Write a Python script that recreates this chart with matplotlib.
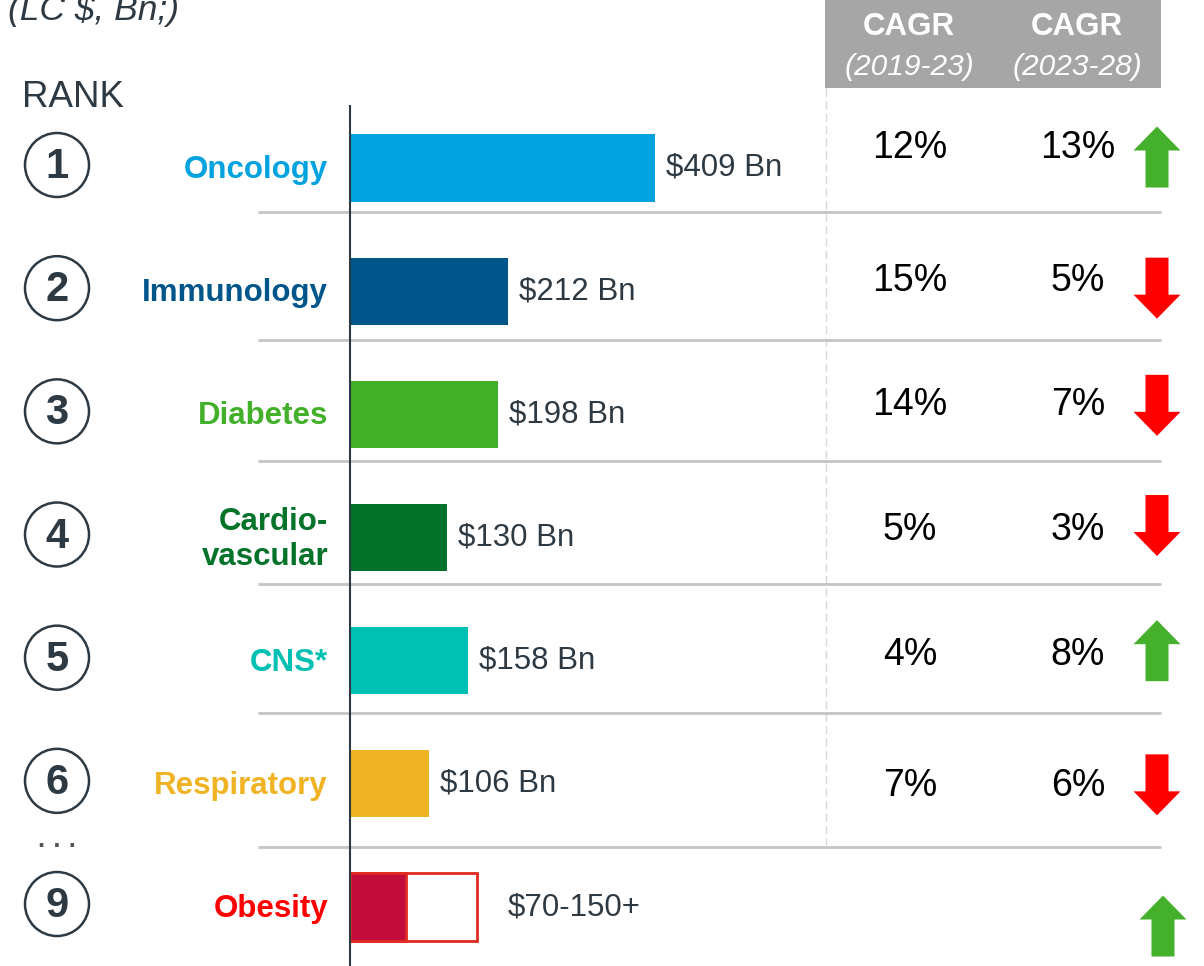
import matplotlib.pyplot as plt
from matplotlib.patches import Circle, Rectangle

plt.rcParams['font.family'] = ['Liberation Sans', 'DejaVu Sans']

# ---- data ----
ranks = [1, 2, 3, 4, 5, 6, 9]
categories = ["Oncology", "Immunology", "Diabetes", "Cardio-\nvascular",
              "CNS*", "Respiratory", "Obesity"]
sales_bn = [409, 212, 198, 130, 158, 106]
value_labels = ["$409 Bn", "$212 Bn", "$198 Bn", "$130 Bn", "$158 Bn", "$106 Bn"]
obesity_low = 75      # filled part of the obesity bar
obesity_high = 170    # outlined part ("150+")
obesity_label = "$70-150+"
cagr_2019_23 = ["12%", "15%", "14%", "5%", "4%", "7%"]
cagr_2023_28 = ["13%", "5%", "7%", "3%", "8%", "6%"]
trend = ["up", "down", "down", "down", "up", "down", "up"]

cat_colors = ["#00a3e0", "#00558a", "#43b02a", "#04732a", "#00bfb3", "#f0b323", "#ff0000"]
bar_colors = ["#02a3df", "#00558a", "#43b02a", "#02722a", "#00bfb3", "#f0b323"]
dark = "#2d3a44"
sep_gray = "#c4c4c4"
up_col, down_col = "#44b02c", "#ff0000"

# ---- layout (pixels) ----
W, H = 1204, 966
AXIS_X, BAR_TOP = 350, 106
PX_PER_BN = 0.746
ROW0, ROW_STEP = 168, 123.17
sep_y = [212, 340, 461, 584, 713, 847]
cagr_nudge = [-20, -10, -9, -8, -6, 2]
arrow_nudge = [-11, -3, -9, -12, -10, 1, 19]

fig = plt.figure(figsize=(W / 100, H / 100), dpi=100)
ax = fig.add_axes([0, 0, 1, 1])
ax.set_xlim(0, W)
ax.set_ylim(H, 0)
ax.axis("off")

bx = fig.add_axes([AXIS_X / W, 0, (W - AXIS_X) / W, (H - BAR_TOP) / H])
bx.set_xlim(0, (W - AXIS_X) / PX_PER_BN)
bx.set_ylim((H - ROW0) / ROW_STEP, (BAR_TOP - ROW0) / ROW_STEP)
bx.patch.set_visible(False)
for s in ["top", "right", "bottom"]:
    bx.spines[s].set_visible(False)
bx.spines["left"].set_color(dark)
bx.spines["left"].set_linewidth(1.5)
bx.set_xticks([])
bx.set_yticks([])


def row_px(i):
    return ROW0 + ROW_STEP * i


# header
ax.text(8, 20, "(LC $, Bn;)", fontsize=25.5, style="italic", color=dark, va="baseline")
ax.text(22, 107, "RANK", fontsize=26.5, color=dark, va="baseline")
ax.add_patch(Rectangle((825, 0), 336, 88, color="#a6a6a6", lw=0))
for cx, period in [(909, "(2019-23)"), (1077, "(2023-28)")]:
    ax.text(cx, 27, "CAGR", fontsize=22.5, weight="bold", color="white", ha="center", va="center")
    ax.text(cx, 67, period, fontsize=21.5, style="italic", color="white", ha="center", va="center")

# grid lines
ax.plot([826, 826], [88, 845], color="#d9d9d9", lw=1, ls=(0, (6, 3)))
for y in sep_y:
    ax.plot([258, 1161], [y, y], color=sep_gray, lw=2, solid_capstyle="butt")

# bars
rows = list(range(len(sales_bn)))
bx.barh(rows, sales_bn, height=0.545, color=bar_colors, zorder=1)
for i, v in enumerate(sales_bn):
    bx.annotate(value_labels[i], (v, i), xytext=(8, 0), textcoords="offset points",
                fontsize=22.5, color=dark, va="center", ha="left")
ob = len(sales_bn)
bx.barh(ob, obesity_high, height=0.545, fill=False, edgecolor="#e02a20", lw=2, zorder=1)
bx.barh(ob, obesity_low, height=0.545, color="#c20c3c", edgecolor="#e02a20", lw=2, zorder=1)
bx.annotate(obesity_label, (obesity_high, ob), xytext=(22, 0), textcoords="offset points",
            fontsize=22.5, color=dark, va="center", ha="left")

# rank circles + category names
for i, (r, name) in enumerate(zip(ranks, categories)):
    y = row_px(i)
    ax.add_patch(Circle((57, y - 3), 32, fill=False, edgecolor=dark, lw=1.8))
    ax.text(57, y - 1, str(r), fontsize=30, weight="bold", color=dark, ha="center", va="center")
    ax.text(328, y + 2, name, fontsize=22.5, weight="bold", color=cat_colors[i],
            ha="right", va="center", linespacing=1.2)
ax.text(58, 847, "\u00b7 \u00b7 \u00b7", fontsize=18, weight="bold", color="#555555",
        ha="center", va="center")

# CAGR columns
for i in range(len(cagr_2019_23)):
    y = row_px(i) + cagr_nudge[i]
    ax.text(910, y, cagr_2019_23[i], fontsize=27, color="black", ha="center", va="center")
    ax.text(1078, y, cagr_2023_28[i], fontsize=27, color="black", ha="center", va="center")

# trend arrows
for i, t in enumerate(trend):
    yc = row_px(i) + arrow_nudge[i]
    xc = 1157 if i < len(sales_bn) else 1163
    if t == "up":
        ax.arrow(xc, yc + 30.5, 0, -61, width=23, head_width=47, head_length=24,
                 length_includes_head=True, color=up_col, lw=0)
    else:
        ax.arrow(xc, yc - 30.5, 0, 61, width=23, head_width=47, head_length=24,
                 length_includes_head=True, color=down_col, lw=0)

fig.savefig("out.png", dpi=100)
